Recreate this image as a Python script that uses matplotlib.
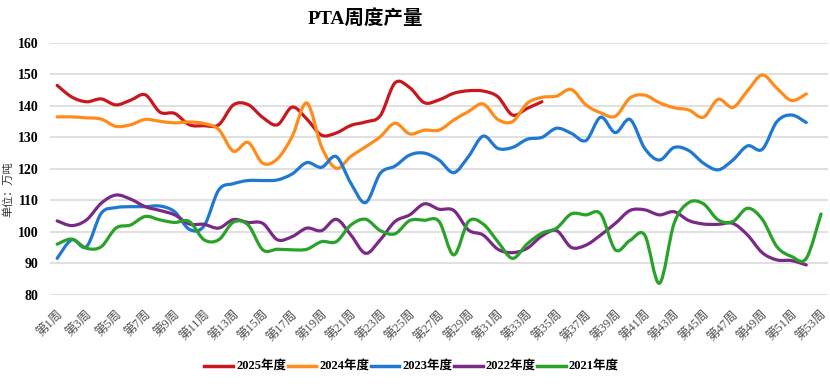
import numpy as np
import matplotlib.pyplot as plt
from matplotlib.path import Path
from matplotlib.patches import PathPatch
from matplotlib.lines import Line2D

weeks = np.arange(1, 54)
week_labels = [f"第{w}周" for w in weeks]

y2025 = [146.5, 142.8, 141.3, 142.2, 140.3, 141.8, 143.5, 138.0, 137.6, 134.0,
         133.7, 134.0, 140.3, 140.4, 136.3, 134.0, 139.6, 135.8, 130.7, 131.4,
         133.8, 134.9, 136.9, 147.3, 145.8, 141.0, 141.9, 144.0, 144.8, 144.7,
         142.9, 137.1, 139.2, 141.3]
y2024 = [136.5, 136.5, 136.2, 135.8, 133.5, 134.0, 135.7, 135.1, 134.6, 134.9,
         134.4, 132.5, 125.6, 128.4, 121.8, 123.2, 130.3, 140.9, 127.0, 120.2,
         124.0, 127.0, 130.2, 134.5, 131.1, 132.3, 132.3, 135.5, 138.2, 140.6,
         135.7, 135.0, 140.8, 142.7, 143.1, 145.2, 140.3, 137.8, 136.7, 142.5,
         143.4, 141.0, 139.4, 138.7, 136.4, 142.1, 139.5, 144.8, 149.8, 145.6,
         141.7, 143.8]
y2023 = [91.6, 97.5, 95.3, 105.9, 107.7, 108.0, 108.0, 108.2, 106.4, 100.8,
         101.9, 113.3, 115.3, 116.3, 116.3, 116.5, 118.4, 122.0, 120.5, 123.9,
         115.4, 109.3, 118.6, 120.9, 124.4, 125.0, 122.8, 118.8, 123.9, 130.4,
         126.5, 126.8, 129.4, 130.0, 132.9, 131.3, 129.0, 136.4, 131.5, 135.7,
         126.5, 122.8, 126.8, 125.8, 121.8, 119.7, 122.8, 127.3, 126.2, 135.0,
         137.1, 134.7]
y2022 = [103.5, 102.0, 103.8, 109.1, 111.7, 110.4, 108.0, 106.8, 105.4, 102.5,
         102.4, 101.2, 103.9, 103.0, 102.7, 97.5, 98.5, 101.2, 100.4, 104.0,
         99.0, 93.2, 97.5, 103.3, 105.4, 108.9, 107.2, 106.8, 100.6, 99.0,
         94.5, 93.4, 94.8, 98.7, 100.4, 95.1, 95.8, 99.0, 102.7, 106.8,
         107.0, 105.4, 106.4, 103.6, 102.5, 102.4, 102.7, 99.0, 93.4, 91.1,
         90.9, 89.5]
y2021 = [96.1, 97.7, 94.8, 95.3, 101.2, 102.2, 104.9, 103.8, 103.0, 103.3,
         97.5, 97.5, 103.1, 102.2, 94.3, 94.5, 94.3, 94.5, 96.9, 96.9,
         102.2, 104.0, 100.4, 99.4, 103.6, 103.7, 103.3, 92.7, 103.3, 102.5,
         96.9, 91.6, 96.2, 99.6, 101.2, 105.7, 105.4, 105.7, 94.3, 97.3,
         99.0, 83.7, 102.7, 109.3, 108.9, 103.8, 103.3, 107.5, 104.0, 95.3,
         92.2, 91.6, 105.7]

series = [
    ("2025年度", y2025, "#C8181E"),
    ("2024年度", y2024, "#FF8C1A"),
    ("2023年度", y2023, "#1F78D1"),
    ("2022年度", y2022, "#7A2A86"),
    ("2021年度", y2021, "#28A228"),
]

fonts = ["Liberation Serif", "Noto Sans CJK SC"]
plt.rcParams["font.family"] = fonts


def smooth_path(x, y):
    # Excel-style smoothed line: Catmull-Rom segments as cubic Beziers
    pts = np.column_stack([x, y])
    ext = np.vstack([pts[0], pts, pts[-1]])
    verts = [pts[0]]
    codes = [Path.MOVETO]
    for i in range(1, len(ext) - 2):
        p0, p1, p2, p3 = ext[i - 1], ext[i], ext[i + 1], ext[i + 2]
        verts += [p1 + (p2 - p0) / 6, p2 - (p3 - p1) / 6, p2]
        codes += [Path.CURVE4] * 3
    return Path(verts, codes)


fig = plt.figure(figsize=(8.3, 3.86), dpi=100)
ax = fig.add_axes([0.060, 0.236, 0.938, 0.653])

handles = []
for name, vals, color in series:
    x = weeks[:len(vals)]
    ax.add_patch(PathPatch(smooth_path(x, vals), fill=False, edgecolor=color,
                           lw=2.3, capstyle="round", joinstyle="round", zorder=3))
    handles.append(Line2D([], [], color=color, lw=2.5, label=name))

ax.set_xlim(0.5, 53.5)
ax.set_ylim(80, 160)
ax.set_yticks(range(80, 161, 10))
ax.set_xticks(weeks[::2])
ax.set_xticklabels(week_labels[::2], rotation=45, ha="right",
                   rotation_mode="anchor", fontsize=9, color="#505050")
for lab in ax.get_yticklabels():
    lab.set_fontweight("bold")
    lab.set_fontsize(10)
ax.tick_params(axis="both", length=0)
ax.tick_params(axis="y", pad=8)
ax.tick_params(axis="x", pad=10)
ax.grid(axis="y", color="#DADADA", lw=1.2)
ax.set_axisbelow(True)
for s in ax.spines.values():
    s.set_visible(False)

fig.text(0.44, 0.953, "PTA周度产量", ha="center", va="center",
         fontsize=14, fontweight="bold")
fig.text(0.010, 0.51, "单位：万吨", rotation=90, ha="center", va="center",
         fontsize=8, color="#333333")

fig.legend(handles=handles, loc="center", bbox_to_anchor=(0.496, 0.049),
           ncol=5, frameon=False, handlelength=2.3, handletextpad=0.25,
           columnspacing=0.1, prop={"weight": "bold", "size": 9, "family": fonts})

fig.savefig("out.png", dpi=100)
